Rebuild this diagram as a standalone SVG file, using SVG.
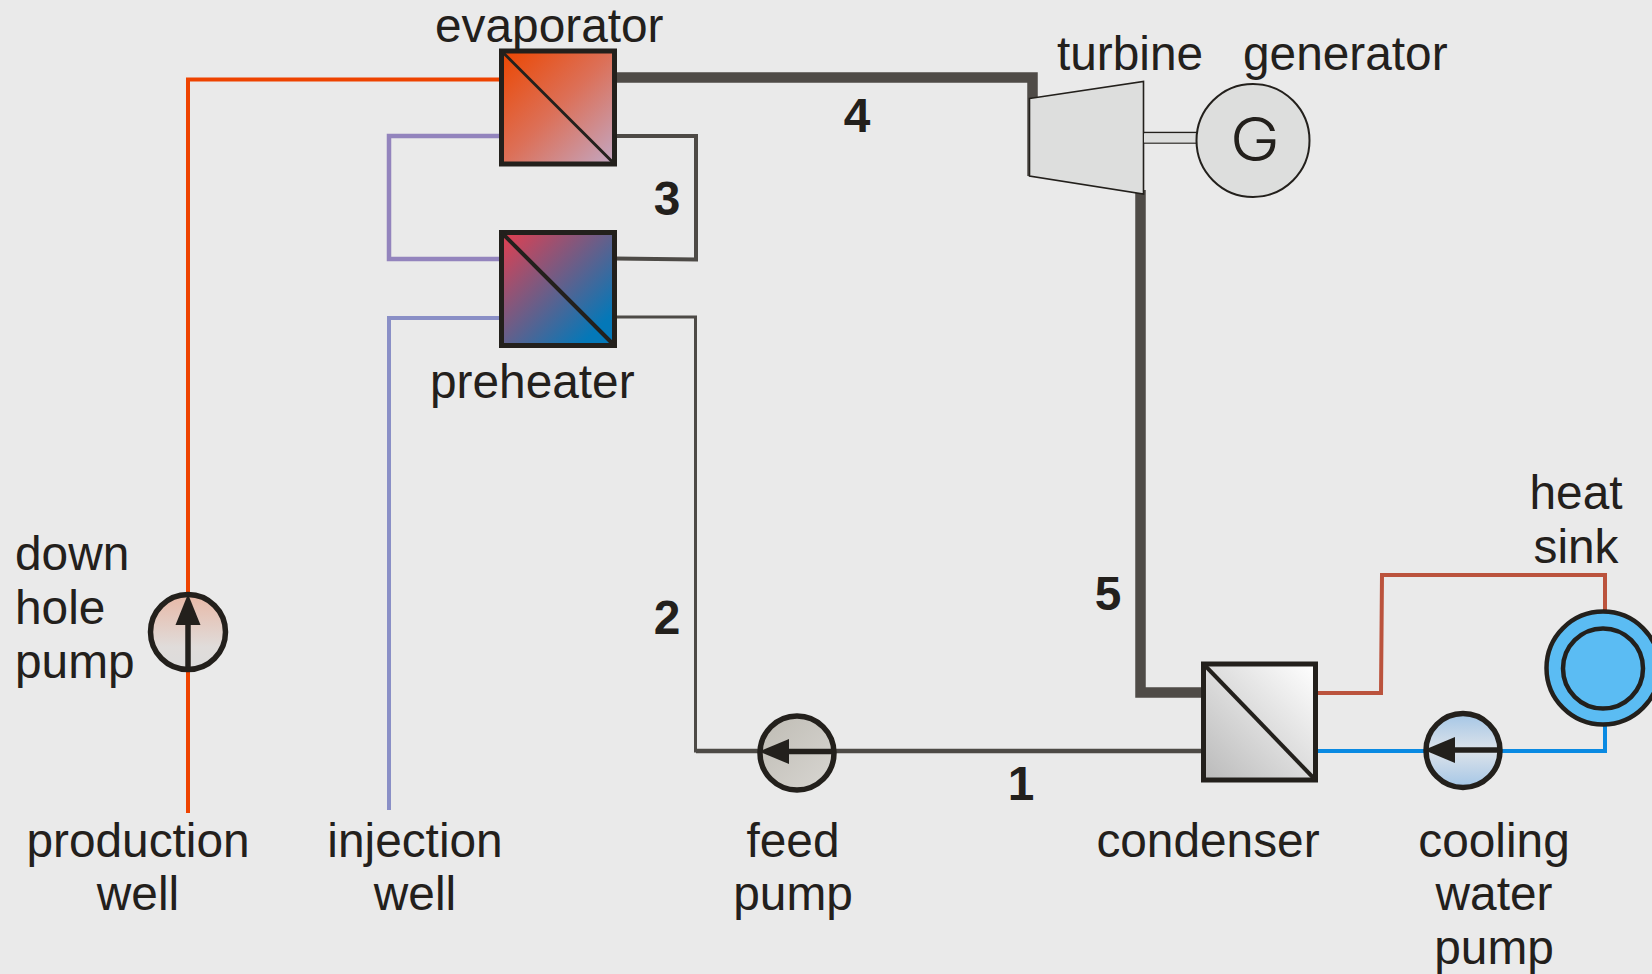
<svg xmlns="http://www.w3.org/2000/svg" width="1652" height="974" viewBox="0 0 1652 974">
<defs>
<linearGradient id="gEvap" x1="0" y1="0" x2="1" y2="1"><stop offset="0" stop-color="#ec4600"/><stop offset="0.5" stop-color="#dc7058"/><stop offset="1" stop-color="#c2a8c4"/></linearGradient>
<linearGradient id="gPre" x1="0" y1="0" x2="1" y2="1"><stop offset="0" stop-color="#e63e4e"/><stop offset="0.85" stop-color="#0478b8"/><stop offset="1" stop-color="#0478b8"/></linearGradient>
<linearGradient id="gCond" x1="0" y1="1" x2="1" y2="0"><stop offset="0" stop-color="#bababa"/><stop offset="1" stop-color="#ffffff"/></linearGradient>
<linearGradient id="gDown" x1="0" y1="0" x2="0" y2="1"><stop offset="0" stop-color="#e8b8a6"/><stop offset="0.7" stop-color="#e0dcda"/><stop offset="1" stop-color="#dcdcdc"/></linearGradient>
<linearGradient id="gFeed" x1="0" y1="0" x2="1" y2="1"><stop offset="0" stop-color="#bfbcb4"/><stop offset="1" stop-color="#d8d6d2"/></linearGradient>
<linearGradient id="gCool" x1="0" y1="0" x2="0" y2="1"><stop offset="0" stop-color="#a4c6e6"/><stop offset="0.5" stop-color="#dde3ea"/><stop offset="1" stop-color="#a4c6e6"/></linearGradient>
</defs>
<style>
text{font-family:"Liberation Sans",Arial,sans-serif;font-size:47.800px;fill:#23201c}
.m{text-anchor:middle}
.n{font-weight:bold;text-anchor:middle}
.c{fill:none;stroke-linejoin:miter}
.hx{stroke:#23201c;stroke-width:5}
.diag{stroke:#23201c;stroke-width:3;fill:none}
.pump{stroke:#23201c;stroke-width:5.500}
.arrow{fill:#23201c}
.shaft{stroke:#23201c;stroke-width:5.500;fill:none}
.thin{stroke:#23201c;stroke-width:1.600}
</style>
<rect width="1652" height="974" fill="#eaeaea"/>
<g id="connectors">
<path class="c" d="M188 813V79.500H501" stroke="#ee4300" stroke-width="4"/>
<path class="c" d="M501 136H389V259H501" stroke="#9384bd" stroke-width="4.500"/>
<path class="c" d="M501 318H389V810" stroke="#8a8fc6" stroke-width="4"/>
<path class="c" d="M615 136H696V259.500L615 258.500" stroke="#4d4a46" stroke-width="4"/>
<path class="c" d="M615 317H695.500V751H1203" stroke="#4d4a46" stroke-width="3"/>
<path class="c" d="M696 751H1203" stroke="#4d4a46" stroke-width="4.500"/>
<path class="c" d="M615 77.500H1032.500V176" stroke="#4f4b47" stroke-width="10.500"/>
<path class="c" d="M1140.500 190V692.500H1203" stroke="#4f4b47" stroke-width="10.500"/>
<path class="c" d="M1316 693H1381L1382 575H1605V612" stroke="#bb533d" stroke-width="4"/>
<path class="c" d="M1316 751H1605V725" stroke="#0a8ae2" stroke-width="4"/>
</g>
<g id="evaporator">
<rect class="hx" x="501.500" y="51" width="113" height="113" fill="url(#gEvap)"/>
<path class="diag" d="M501.500 51L614.500 164"/>
<text x="435" y="41.500">evaporator</text>
</g>
<g id="preheater">
<rect class="hx" x="501.500" y="232.500" width="113" height="113" fill="url(#gPre)"/>
<path class="diag" style="stroke-width:4" d="M501.500 232.500L614.500 345.500"/>
<text x="430" y="397.500">preheater</text>
</g>
<g id="turbine">
<path class="thin" d="M1029.500 98.500L1143.500 81.500V194L1029.500 176Z" fill="#dddedd"/>
<text x="1057" y="70">turbine</text>
</g>
<g id="generator">
<path class="thin" d="M1144 132.500H1197M1144 143H1197" fill="none"/>
<rect x="1144" y="133.500" width="53" height="9" fill="#dddedd"/>
<circle cx="1253" cy="140.500" r="56.500" fill="#dddedd" stroke="#23201c" stroke-width="2"/>
<text class="m" transform="translate(1255 161) scale(1.120 1)" style="font-size:60px;font-family:Inter,'Liberation Sans',sans-serif;font-weight:300">G</text>
<text x="1243" y="70">generator</text>
</g>
<g id="condenser">
<rect class="hx" x="1203.500" y="664" width="112" height="116" fill="url(#gCond)"/>
<path class="diag" style="stroke-width:4" d="M1203.500 664L1315.500 780"/>
<text class="m" x="1208" y="856.500">condenser</text>
</g>
<g id="heat-sink">
<circle cx="1603" cy="668" r="56.500" fill="#5bbcf3" stroke="#23201c" stroke-width="4.500"/>
<circle cx="1603" cy="668.500" r="40" fill="#5bbcf3" stroke="#23201c" stroke-width="4.500"/>
<text class="m" x="1576" y="508.500">heat</text>
<text class="m" x="1576" y="562.500">sink</text>
</g>
<g id="down-hole-pump">
<circle class="pump" cx="188" cy="632" r="37.500" fill="url(#gDown)"/>
<path class="shaft" d="M188 618V670"/>
<path class="arrow" d="M188 594L200.500 625H175.500Z"/>
<text x="15" y="570">down</text>
<text x="15" y="624">hole</text>
<text x="15" y="678">pump</text>
</g>
<g id="production-well">
<text class="m" x="138" y="856.500">production</text>
<text class="m" x="138" y="910">well</text>
</g>
<g id="injection-well">
<text class="m" x="415" y="856.500">injection</text>
<text class="m" x="415" y="910">well</text>
</g>
<g id="feed-pump">
<circle class="pump" cx="797" cy="753" r="37" fill="url(#gFeed)"/>
<path class="shaft" d="M780 751.500H835"/>
<path class="arrow" d="M759 751.500L789 739V764Z"/>
<text class="m" x="793" y="856.500">feed</text>
<text class="m" x="793" y="910">pump</text>
</g>
<g id="cooling-water-pump">
<circle class="pump" cx="1463" cy="750.500" r="37" fill="url(#gCool)"/>
<path class="shaft" d="M1445 750H1500"/>
<path class="arrow" d="M1424 750L1455 737V763Z"/>
<text class="m" x="1494" y="856.500">cooling</text>
<text class="m" x="1494" y="910">water</text>
<text class="m" x="1494" y="964">pump</text>
</g>
<g id="state-labels">
<text class="n" x="1021" y="800">1</text>
<text class="n" x="667" y="633.500">2</text>
<text class="n" x="667" y="214.500">3</text>
<text class="n" x="857" y="131.500">4</text>
<text class="n" x="1108" y="609.500">5</text>
</g>
</svg>
